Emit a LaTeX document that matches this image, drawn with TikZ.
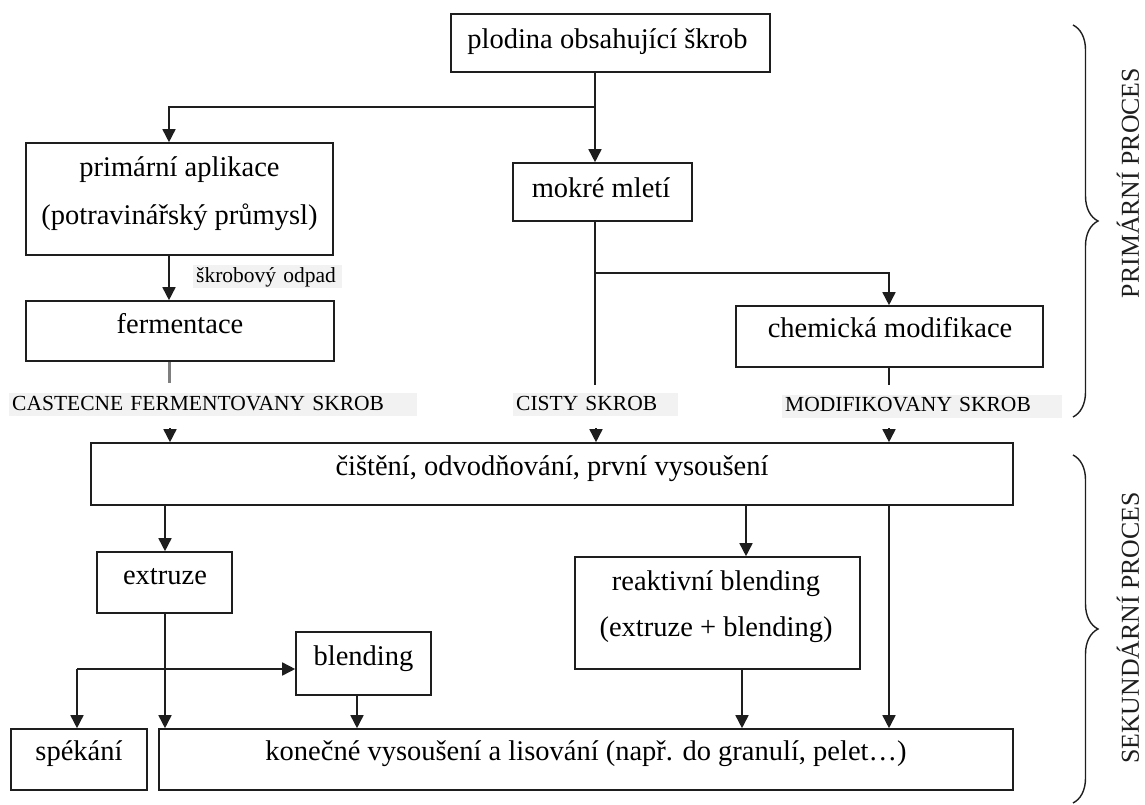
\documentclass[tikz,border=0pt]{standalone}
\usepackage{fontspec}
\setmainfont{Liberation Serif}
\usetikzlibrary{arrows.meta,decorations.pathreplacing,calc}
\definecolor{lblbg}{HTML}{F2F2F2}
\definecolor{ln}{HTML}{1E1E1E}
\definecolor{grayln}{HTML}{7F7F7F}
\newcommand{\mkbox}[5]{\node[box,minimum width={#4-#2},minimum height={#5-#3}] (#1) at ({(#2+#4)/2},{(#3+#5)/2}) {};}
\begin{document}
\begin{tikzpicture}[x=1pt,y=-1pt,
  box/.style={draw=ln,line width=1.6pt,rectangle,inner sep=0pt},
  txt/.style={font=\fontsize{28.5}{34}\selectfont,inner sep=0pt,text height=19pt,text depth=6pt},
  lbl/.style={fill=lblbg,font=\fontsize{21.5}{24}\selectfont,inner xsep=3pt,inner ysep=0pt,minimum height=23pt,anchor=west,align=left,text height=15pt,text depth=4pt},
  conn/.style={draw=ln,line width=1.6pt},
  arr/.style={conn,-{Triangle[width=13pt,length=13pt]}},
  brc/.style={draw=ln,line width=1.4pt,decorate,decoration={brace,amplitude=25pt}},
  side/.style={rotate=90,font=\fontsize{25.8}{30}\selectfont,text=ln,inner sep=0pt}]
\useasboundingbox (0,0) rectangle (1145,805);

% boxes
\mkbox{plod}{451}{14}{770}{72}
\mkbox{prim}{26}{143}{333}{255}
\mkbox{mokre}{513}{163}{692}{221}
\mkbox{ferm}{26}{301}{334}{361}
\mkbox{chem}{736}{306}{1043}{367}
\mkbox{cist}{91}{443}{1013}{505}
\mkbox{extr}{97}{552}{232}{613}
\mkbox{reak}{575}{557}{860}{669}
\mkbox{blend}{296}{632}{431}{695}
\mkbox{spek}{11}{729}{147}{790}
\mkbox{kon}{159}{729}{1013}{790}

% texts
\node[txt] (plodT) at (607.5,42) {plodina obsahující škrob};
\node[txt] (primT1) at (179.5,170) {primární aplikace};
\node[txt] (primT2) at (179.5,218) {(potravinářský průmysl)};
\node[txt] (mokreT) at (601,191) {mokré mletí};
\node[txt] (fermT) at (180,327) {fermentace};
\node[txt] (chemT) at (890,331) {chemická modifikace};
\node[txt] (cistT) at (552,469) {čištění, odvodňování, první vysoušení};
\node[txt] (extrT) at (165,578) {extruze};
\node[txt] (reakT1) at (716,584) {reaktivní blending};
\node[txt] (reakT2) at (716,630) {(extruze + blending)};
\node[txt] (blendT) at (363.5,659) {blending};
\node[txt] (spekT) at (79,754) {spékání};
\node[txt] (konT) at (586,754) {konečné vysoušení a lisování (např. do granulí, pelet…)};

% grey labels
\node[lbl,text width=143pt] (odpad) at (193,276.5) {škrobový odpad};
\node[lbl,text width=402pt] (castL) at (9,404.5) {CASTECNE FERMENTOVANY SKROB};
\node[lbl,text width=159pt] (cistyL) at (513,404.5) {CISTY SKROB};
\node[lbl,text width=274pt] (modifL) at (782,406) {MODIFIKOVANY SKROB};

% column / row helpers
\coordinate (xA) at (595,0);
\coordinate (xB) at (169,0);
\coordinate (xC) at (889,0);
\coordinate (xE) at (165,0);
\coordinate (xF) at (746,0);
\coordinate (xG) at (742,0);
\coordinate (xI) at (77,0);
\coordinate (xJ) at (357,0);
\coordinate (yA) at (0,107);
\coordinate (yB) at (0,273);
\coordinate (yC) at (0,669);
\coordinate (fermEnd) at (169,383);
\coordinate (mokreEnd) at (595,385);
\coordinate (chemEnd) at (889,385);
\coordinate (castA) at (170,428);
\coordinate (cistyA) at (596,428);
\coordinate (modifA) at (889,428);

% connectors
\draw[arr] (plod.south -| xA) -- (mokre.north -| xA);
\draw[arr] (xA |- yA) -- (xB |- yA) -- (prim.north -| xB);
\draw[arr] (prim.south -| xB) -- (ferm.north -| xB);
\draw[draw=grayln,line width=3pt] (ferm.south -| xB) -- (fermEnd);
\draw[conn] (mokre.south -| xA) -- (mokreEnd);
\draw[arr] (xA |- yB) -- (xC |- yB) -- (chem.north -| xC);
\draw[conn] (chem.south -| xC) -- (chemEnd);
\draw[arr] (castA) -- (cist.north -| castA);
\draw[arr] (cistyA) -- (cist.north -| cistyA);
\draw[arr] (modifA) -- (cist.north -| modifA);
\draw[arr] (cist.south -| xE) -- (extr.north -| xE);
\draw[arr] (cist.south -| xF) -- (reak.north -| xF);
\draw[arr] (cist.south -| xC) -- (kon.north -| xC);
\draw[arr] (extr.south -| xE) -- (kon.north -| xE);
\draw[arr] (xI |- yC) -- (spek.north -| xI);
\draw[arr] (xI |- yC) -- (blend.west |- yC);
\draw[arr] (blend.south -| xJ) -- (kon.north -| xJ);
\draw[arr] (reak.south -| xG) -- (kon.north -| xG);

% braces
\coordinate (b1t) at (1073,25);
\coordinate (b1b) at (1073,417);
\coordinate (b2t) at (1073,455);
\coordinate (b2b) at (1073,803);
\draw[brc] (b1t) -- (b1b);
\draw[brc] (b2t) -- (b2b);
\node[side] (primP) at (1128,183) {PRIMÁRNÍ PROCES};
\node[side] (sekP) at (1128,628) {SEKUNDÁRNÍ PROCES};
\end{tikzpicture}
\end{document}
